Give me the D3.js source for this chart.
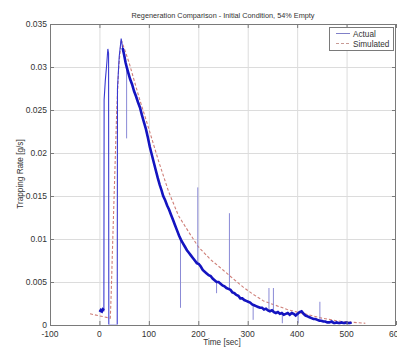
<!DOCTYPE html>
<html><head><meta charset="utf-8">
<script src="https://cdn.jsdelivr.net/npm/d3@7"></script>
<style>body{margin:0;background:#fff}svg{display:block;font-family:"Liberation Sans",Arial,sans-serif}</style>
</head><body><svg id="c" width="397" height="349"></svg>
<script>
const title = "Regeneration Comparison - Initial Condition, 54% Empty";
const xLabel = "Time [sec]";
const yLabel = "Trapping Rate [g/s]";
const seriesNames = ["Actual", "Simulated"];
const xTicks = [-100, 0, 100, 200, 300, 400, 500, 600];
const yTicks = [0, 0.005, 0.01, 0.015, 0.02, 0.025, 0.03, 0.035];
const yTickLabels = ["0", "0.005", "0.01", "0.015", "0.02", "0.025", "0.03", "0.035"];

const actualTime = [1,3,5,7,9,9.5,12,15,17,18.5,19,36,36.5,40,44,47,50,53,56,59,62,66,70,74,78,82,86,90,94,98,102,106,110,114,118,122,126,129,133,137,141,145,149,153,157,161,165,169,173,177,181,185,189,193,197,201,205,209,213,217,221,225,229,233,237,241,245,249,253,257,261,265,269,273,277,281,285,289,293,297,301,305,309,313,317,321,325,329,333,337,341,345,349,353,357,361,365,369,373,377,381,385,389,393,397,401,405,409,413,417,421,425,429,433,437,441,445,449,453,457,461,465,470,475,480,485,490,495,500,505,510];
const actualRate = [0.0015,0.0017,0.0016,0.0018,0.0017,0.0262,0.0285,0.0305,0.0321,0.0316,0.0,0.0,0.0275,0.0312,0.0333,0.0322,0.0314,0.0305,0.0298,0.0292,0.0286,0.0280,0.0272,0.0266,0.0259,0.0253,0.0244,0.0236,0.0228,0.0218,0.0207,0.0198,0.0189,0.0180,0.0171,0.0163,0.0156,0.0150,0.0145,0.0139,0.0134,0.0128,0.0122,0.0116,0.0110,0.0104,0.0099,0.0095,0.0091,0.0087,0.0084,0.0081,0.0078,0.0075,0.0072,0.0071,0.0068,0.0064,0.0062,0.0060,0.0058,0.0057,0.0054,0.0052,0.0050,0.0050,0.0048,0.0046,0.0045,0.0043,0.0042,0.0041,0.0038,0.0037,0.0035,0.0034,0.0031,0.0031,0.0029,0.0028,0.0027,0.0026,0.0024,0.0023,0.0022,0.0021,0.0020,0.0020,0.0018,0.0019,0.0017,0.0016,0.0017,0.0015,0.0014,0.0015,0.0013,0.0014,0.0012,0.0013,0.0014,0.0012,0.0014,0.0013,0.0011,0.0013,0.0015,0.0016,0.0013,0.0011,0.0010,0.0009,0.0008,0.0007,0.0007,0.0006,0.0005,0.0005,0.0004,0.0004,0.0003,0.0003,0.0004,0.0002,0.0003,0.0002,0.0003,0.0002,0.0003,0.0002,0.0003];

const spikeTime = [55,164,199,237,263,311,343,352,370,402,446];
const spikeBase = [0.0300,0.0100,0.0072,0.0050,0.0042,0.0024,0.0017,0.0016,0.0014,0.0013,0.0005];
const spikeTip  = [0.0217,0.0020,0.0160,0.0037,0.0130,0.0006,0.0043,0.0043,0.0002,0.0002,0.0027];

const simTime = [-19,21,22,24,27,31,35,39,44,60,80,100,120,140,160,183,200,225,250,270,291,310,332,356,380,400,423,450,470,491,515,538];
const simRate = [0.0013,0.0008,0.0008,0.0040,0.0100,0.0174,0.0250,0.0300,0.0332,0.0305,0.0265,0.0228,0.0190,0.0155,0.0127,0.0106,0.0091,0.0076,0.0064,0.0054,0.0044,0.0036,0.0028,0.0023,0.0018,0.0015,0.0012,0.0008,0.0006,0.0004,0.0003,0.0002];

const L = 50, R = 396, T = 24, B = 325;
const svg = d3.select("#c");
const x = d3.scaleLinear().domain([-100, 600]).range([L, R]);
const y = d3.scaleLinear().domain([0, 0.035]).range([B, T]);

// grid
const g = svg.append("g");
g.selectAll(".gx").data(xTicks.slice(1, -1)).join("line")
  .attr("x1", d => x(d) + 0.5).attr("x2", d => x(d) + 0.5).attr("y1", T).attr("y2", B)
  .attr("stroke", "#dcdcdc").attr("stroke-width", 1);
g.selectAll(".gy").data(yTicks.slice(1, -1)).join("line")
  .attr("y1", d => Math.round(y(d)) + 0.5).attr("y2", d => Math.round(y(d)) + 0.5).attr("x1", L).attr("x2", R)
  .attr("stroke", "#dcdcdc").attr("stroke-width", 1);

svg.append("clipPath").attr("id", "clp").append("rect").attr("x", L).attr("y", T - 2).attr("width", R - L).attr("height", B - T + 1.5);
const plot = svg.append("g").attr("clip-path", "url(#clp)");

// simulated
const sim = simTime.map((t, i) => [t, simRate[i]]);
plot.append("path").datum(sim)
  .attr("d", d3.line().x(d => x(d[0])).y(d => y(d[1])))
  .attr("fill", "none").attr("stroke", "#cf7f78").attr("stroke-width", 1.1).attr("stroke-dasharray", "3,2");

// spikes
plot.selectAll(".sp").data(spikeTime).join("line")
  .attr("x1", d => x(d)).attr("x2", d => x(d))
  .attr("y1", (d, i) => y(spikeBase[i])).attr("y2", (d, i) => y(spikeTip[i]))
  .attr("stroke", "#8a8ad6").attr("stroke-width", 1);

// actual
const act = actualTime.map((t, i) => [t, actualRate[i]]);
const line = d3.line().x(d => x(d[0])).y(d => y(d[1]));
plot.append("path").datum(act).attr("d", line)
  .attr("fill", "none").attr("stroke", "#3a3ad0").attr("stroke-width", 1.1);
plot.append("path").datum(act.filter(d => d[0] >= 47)).attr("d", line)
  .attr("fill", "none").attr("stroke", "#1414c0").attr("stroke-width", 2.6);
plot.append("path").datum(act.filter(d => d[0] <= 9))
  .attr("d", line).attr("fill", "none").attr("stroke", "#1414c0").attr("stroke-width", 3);

// axes box
svg.append("rect").attr("x", L + 0.5).attr("y", T + 0.5).attr("width", R - L - 1).attr("height", B - T)
  .attr("fill", "none").attr("stroke", "#7a7a7a").attr("stroke-width", 1);

// ticks
const tk = svg.append("g").attr("stroke", "#7a7a7a");
xTicks.forEach(v => {
  tk.append("line").attr("x1", x(v) + 0.5).attr("x2", x(v) + 0.5).attr("y1", B).attr("y2", B - 4);
  tk.append("line").attr("x1", x(v) + 0.5).attr("x2", x(v) + 0.5).attr("y1", T).attr("y2", T + 4);
});
yTicks.forEach(v => {
  const yy = Math.round(y(v)) + 0.5;
  tk.append("line").attr("x1", L).attr("x2", L + 4).attr("y1", yy).attr("y2", yy);
  tk.append("line").attr("x1", R).attr("x2", R - 4).attr("y1", yy).attr("y2", yy);
});

// tick labels
svg.selectAll(".xl").data(xTicks).join("text")
  .attr("x", d => x(d)).attr("y", B + 12).attr("text-anchor", "middle")
  .attr("font-size", 8.5).attr("fill", "#333").text(d => d);
svg.selectAll(".yl").data(yTicks).join("text")
  .attr("x", L - 3).attr("y", d => y(d) + 3).attr("text-anchor", "end")
  .attr("font-size", 8.5).attr("fill", "#333").text((d, i) => yTickLabels[i]);

// title & labels
svg.append("text").attr("x", 223).attr("y", 18).attr("text-anchor", "middle")
  .attr("font-size", 7.3).attr("fill", "#333").text(title);
svg.append("text").attr("x", 222).attr("y", 345).attr("text-anchor", "middle")
  .attr("font-size", 8.2).attr("fill", "#333").text(xLabel);
svg.append("text").attr("transform", "translate(23,174) rotate(-90)").attr("text-anchor", "middle")
  .attr("font-size", 8.2).attr("fill", "#333").text(yLabel);

// legend
const lg = svg.append("g");
lg.append("rect").attr("x", 329.5).attr("y", 27.5).attr("width", 64).attr("height", 23)
  .attr("fill", "#fff").attr("stroke", "#7a7a7a");
lg.append("line").attr("x1", 336).attr("x2", 350).attr("y1", 33.5).attr("y2", 33.5)
  .attr("stroke", "#8080c8").attr("stroke-width", 1);
lg.append("line").attr("x1", 336).attr("x2", 350).attr("y1", 43.5).attr("y2", 43.5)
  .attr("stroke", "#c89a95").attr("stroke-width", 1).attr("stroke-dasharray", "3,2");
lg.selectAll(".lt").data(seriesNames).join("text")
  .attr("x", 353).attr("y", (d, i) => 36.5 + i * 10).attr("font-size", 8.2).attr("fill", "#333").text(d => d);
</script></body></html>
